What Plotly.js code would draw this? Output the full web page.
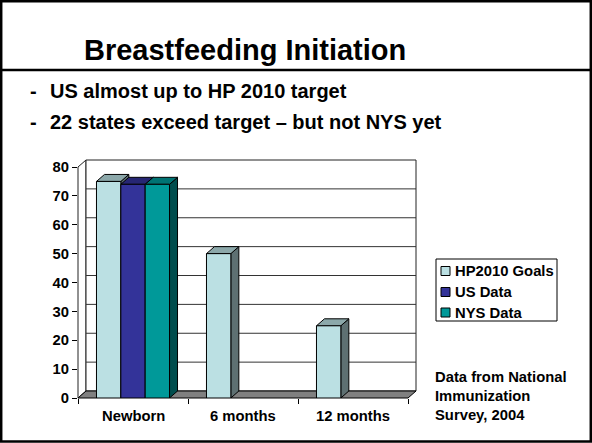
<!DOCTYPE html>
<html><head><meta charset="utf-8">
<script src="https://cdn.plot.ly/plotly-3.0.1.min.js"></script>
<style>html,body{margin:0;padding:0;background:#fff;}#chart{width:592px;height:443px;}</style>
</head><body><div id="chart"></div>
<script>
// ---------- data ----------
const categories = ['Newborn', '6 months', '12 months'];
const seriesNames = ['HP2010 Goals', 'US Data', 'NYS Data'];
const hp2010Goals = [75, 50, 25];
const usData = [74, null, null];
const nysData = [74, null, null];
const yTickValues = [0, 10, 20, 30, 40, 50, 60, 70, 80];
const titleText = 'Breastfeeding Initiation';
const bulletLines = ['US almost up to HP 2010 target', '22 states exceed target \u2013 but not NYS yet'];
const noteLines = ['Data from National', 'Immunization', 'Survey, 2004'];

// ---------- style ----------
const seriesValues = [hp2010Goals, usData, nysData];
const colors = ['#BBE0E3', '#333399', '#009999'];
const FONT = '"Liberation Sans", Arial, Helvetica, sans-serif';
const W = 592, H = 443, L = 78, T = 160, PW = 338, PH = 238;
const DXPX = 8, DYPX = 7;
const CATPX = (PW - DXPX) / categories.length;
const YMAX = 80;
const PXU = (PH - DYPX) / YMAX;
const DX = DXPX / CATPX, DY = DYPX / PXU;
const xRange = [-0.5, categories.length - 0.5 + DX];
const yRange = [0, YMAX + DY];
const BARGAP = 0.336, G = 1 - BARGAP, BW = G / seriesNames.length;

function shade(hex, f) {
  const n = parseInt(hex.slice(1), 16);
  const r = Math.round(((n >> 16) & 255) * f), g = Math.round(((n >> 8) & 255) * f), b = Math.round((n & 255) * f);
  return 'rgb(' + r + ',' + g + ',' + b + ')';
}
const pxX = p => (p - L) / PW;
const pxY = p => (T + PH - p) / PH;
const dX = v => (v - xRange[0]) / (xRange[1] - xRange[0]);
const dY = v => (v - yRange[0]) / (yRange[1] - yRange[0]);

// ---------- 3D faces (behind the bar fronts) ----------
const sides = [], tops = [];
categories.forEach((c, j) => {
  seriesValues.forEach((vals, i) => {
    const v = vals[j];
    if (v === null || v === undefined) return;
    const x0 = j - G / 2 + i * BW, x1 = x0 + BW;
    sides.push({x: [x1, x1, x1 + DX, x1 + DX, x1], y: [0, v, v + DY, DY, 0], color: shade(colors[i], 0.5), v: v});
    tops.push({x: [x0, x1, x1 + DX, x0 + DX, x0], y: [v, v, v + DY, v + DY, v], color: shade(colors[i], 0.75), v: v});
  });
});
tops.sort((a, b) => a.v - b.v);
const faceTraces = sides.concat(tops).map(f => ({
  type: 'scatter', mode: 'lines', x: f.x, y: f.y, fill: 'toself', fillcolor: f.color,
  line: {color: '#000', width: 1}, hoverinfo: 'skip', showlegend: false, xaxis: 'x', yaxis: 'y'
}));

// ---------- bar fronts ----------
const barTraces = seriesNames.map((name, i) => ({
  type: 'bar', name: name, x: categories, y: seriesValues[i], xaxis: 'x2', yaxis: 'y2',
  marker: {color: colors[i], line: {color: '#000', width: 1}}, hoverinfo: 'skip'
}));

// ---------- decoration shapes ----------
const shapes = [];
const wallLine = {color: '#222', width: 1};
shapes.push({type: 'path', xref: 'paper', yref: 'paper', layer: 'below',
  path: `M${dX(-0.5)},${dY(0)} L${dX(-0.5)},${dY(YMAX)} L${dX(-0.5 + DX)},${dY(YMAX + DY)} L${dX(-0.5 + DX)},${dY(DY)} Z`,
  fillcolor: '#fff', line: wallLine});
shapes.push({type: 'rect', xref: 'paper', yref: 'paper', layer: 'below',
  x0: dX(-0.5 + DX), y0: dY(DY), x1: dX(categories.length - 0.5 + DX), y1: dY(YMAX + DY),
  fillcolor: '#fff', line: wallLine});
yTickValues.forEach(v => {
  if (v === 0 || v === YMAX) return;
  shapes.push({type: 'line', xref: 'paper', yref: 'paper', layer: 'below',
    x0: dX(-0.5 + DX), x1: dX(categories.length - 0.5 + DX), y0: dY(v + DY), y1: dY(v + DY),
    line: {color: '#333', width: 1}});
});
shapes.push({type: 'path', xref: 'paper', yref: 'paper', layer: 'below',
  path: `M${dX(-0.5)},${dY(0)} L${dX(categories.length - 0.5)},${dY(0)} L${dX(categories.length - 0.5 + DX)},${dY(DY)} L${dX(-0.5 + DX)},${dY(DY)} Z`,
  fillcolor: '#808080', line: {color: '#000', width: 1}});
shapes.push({type: 'rect', xref: 'paper', yref: 'paper', x0: pxX(1.2), x1: pxX(590.8), y0: pxY(441.5), y1: pxY(1.2),
  line: {color: '#000', width: 2.5}, fillcolor: 'rgba(0,0,0,0)'});
shapes.push({type: 'line', xref: 'paper', yref: 'paper', x0: pxX(0), x1: pxX(592), y0: pxY(70), y1: pxY(70),
  line: {color: '#000', width: 2.5}});
shapes.push({type: 'rect', xref: 'paper', yref: 'paper', x0: pxX(436), x1: pxX(557), y0: pxY(321), y1: pxY(259),
  line: {color: '#000', width: 1}, fillcolor: '#fff'});
const legendRows = [271, 292, 312.5];
const annotations = [];
seriesNames.forEach((name, i) => {
  const yc = legendRows[i];
  shapes.push({type: 'rect', xref: 'paper', yref: 'paper', x0: pxX(441), x1: pxX(450), y0: pxY(yc + 4.5), y1: pxY(yc - 4.5),
    line: {color: '#000', width: 1}, fillcolor: colors[i]});
  annotations.push({xref: 'paper', yref: 'paper', x: pxX(453), y: pxY(yc), xanchor: 'left', yanchor: 'middle',
    text: name, showarrow: false, font: {family: FONT, size: 14.8, color: '#000', weight: 'bold'}});
});

// category labels under the floor
categories.forEach(c => {
  annotations.push({xref: 'x2', yref: 'paper', x: c, y: pxY(416), xanchor: 'center', yanchor: 'middle',
    text: c, showarrow: false, font: {family: FONT, size: 14.8, color: '#000', weight: 'bold'}});
});

// ---------- text ----------
annotations.push({xref: 'paper', yref: 'paper', x: pxX(244.5), y: pxY(50), xanchor: 'center', yanchor: 'middle',
  text: titleText, showarrow: false, font: {family: FONT, size: 29, color: '#000', weight: 'bold'}});
const bulletY = [91, 122];
bulletLines.forEach((t, i) => {
  annotations.push({xref: 'paper', yref: 'paper', x: pxX(28), y: pxY(bulletY[i]), xanchor: 'left', yanchor: 'middle',
    text: '-', showarrow: false, font: {family: FONT, size: 20, color: '#000', weight: 'bold'}});
  annotations.push({xref: 'paper', yref: 'paper', x: pxX(48), y: pxY(bulletY[i]), xanchor: 'left', yanchor: 'middle',
    text: t, showarrow: false, font: {family: FONT, size: 20, color: '#000', weight: 'bold'}});
});
annotations.push({xref: 'paper', yref: 'paper', x: pxX(433), y: pxY(396), xanchor: 'left', yanchor: 'middle', align: 'left',
  text: noteLines.join('<br>'), showarrow: false, font: {family: FONT, size: 14.8, color: '#000', weight: 'bold'}});

const tickFont = {family: FONT, size: 14.8, color: '#000', weight: 'bold'};
const layout = {
  width: W, height: H,
  margin: {l: L, r: W - L - PW, t: T, b: H - T - PH, pad: 0, autoexpand: false},
  paper_bgcolor: '#fff', plot_bgcolor: 'rgba(0,0,0,0)',
  showlegend: false,
  font: {family: FONT, size: 14.8, color: '#000', weight: 'bold'},
  xaxis: {range: xRange, visible: false, fixedrange: true},
  yaxis: {range: yRange, tickmode: 'array', tickvals: yTickValues, ticks: 'outside', ticklen: 5, tickcolor: '#000',
    tickwidth: 1, showgrid: false, zeroline: false, showline: false, tickfont: tickFont, fixedrange: true},
  xaxis2: {overlaying: 'x', anchor: 'y2', side: 'bottom', type: 'category', categoryorder: 'array', categoryarray: categories,
    range: xRange, tickson: 'boundaries', ticks: 'outside', ticklen: 5, tickcolor: '#000', tickwidth: 1,
    showticklabels: false,
    showgrid: false, zeroline: false, showline: false, tickfont: tickFont, fixedrange: true},
  yaxis2: {overlaying: 'y', anchor: 'x2', range: yRange, visible: false, fixedrange: true},
  barmode: 'group', bargap: BARGAP, bargroupgap: 0,
  shapes: shapes, annotations: annotations
};
Plotly.newPlot('chart', faceTraces.concat(barTraces), layout, {displayModeBar: false, staticPlot: true});
</script></body></html>
